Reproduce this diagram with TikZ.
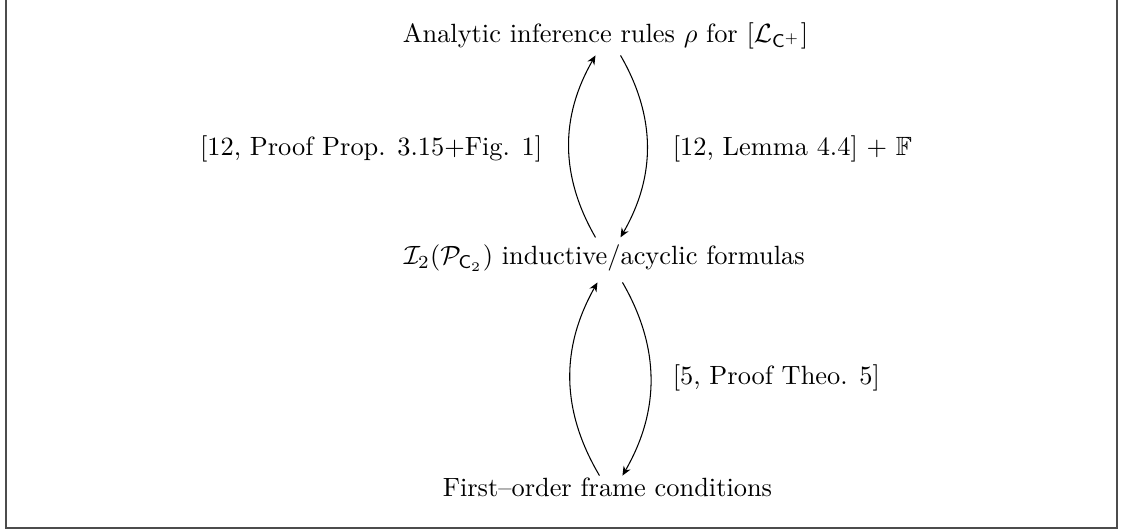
\documentclass[tikz,border=0pt]{standalone}
\usepackage{amsmath,amssymb}
\usetikzlibrary{arrows.meta, calc}
\tikzset{
  stmt/.style={inner sep=2pt, anchor=base west},
  cite/.style={inner sep=2pt},
  barr/.style={-{Stealth[length=3.5pt, width=3pt]}, thin, bend left=30},
  frame/.style={draw=black!70, line width=0.75pt}
}

\begin{document}
\begin{tikzpicture}[x=0.01332cm, y=-0.01332cm]
  \useasboundingbox (0,0) rectangle (1121,531);
  \draw[frame] (6,-20) rectangle (1117,528);

  %% -- Statements --
  \node[stmt] (rules) at (397,43)
    {Analytic inference rules $\rho$ for $[\mathcal{L}_{\mathsf{C}^+}]$};
  \node[stmt] (ind) at (398,265)
    {$\mathcal{I}_2(\mathcal{P}_{\mathsf{C}_2})$ inductive/acyclic formulas};
  \node[stmt] (foc) at (437,497) {First--order frame conditions};

  %% -- References --
  \node[cite, anchor=base east] (proof) at (548,156)
    {[12, Proof Prop. 3.15+Fig. 1]};
  \node[cite, anchor=base west] (lemma) at (667,156)
    {[12, Lemma 4.4] + $\mathbb{F}$};
  \node[cite, anchor=base west] (theo) at (667,385) {[5, Proof Theo. 5]};

  %% -- Arrows: upper pair --
  \draw[barr] ($(ind.north -| rules.south)+(-10,-2)$) to ($(rules.south)+(-10,0)$);
  \draw[barr] ($(rules.south)+(15,0)$) to ($(ind.north -| rules.south)+(15,-2)$);

  %% -- Arrows: lower pair --
  \draw[barr] ($(foc.north)+(-8,3)$) to ($(ind.south -| foc.north)+(-10,5)$);
  \draw[barr] ($(ind.south -| foc.north)+(15,5)$) to ($(foc.north)+(15,3)$);
\end{tikzpicture}
\end{document}
